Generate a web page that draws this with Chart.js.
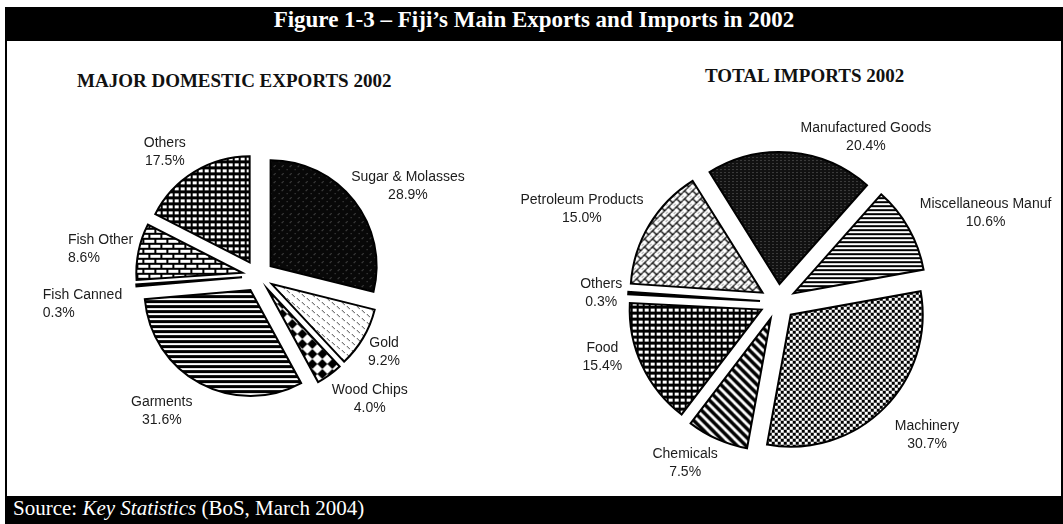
<!DOCTYPE html>
<html>
<head>
<meta charset="utf-8">
<script src="https://cdn.jsdelivr.net/npm/chart.js@4.4.1/dist/chart.umd.min.js"></script>
<style>
  html, body { margin: 0; padding: 0; background: #fff; }
  body { width: 1063px; height: 524px; position: relative; overflow: hidden; }
  .bar { position: absolute; left: 5px; width: 1058px; background: #000; color: #fff; z-index: 2; }
  #titleBar { top: 7px; height: 34px; line-height: 34px; text-align: center;
    font: bold 23px "Liberation Serif", "Times New Roman", serif; }
  #sourceBar { top: 496px; height: 28px; line-height: 28px; padding-left: 8px; box-sizing: border-box;
    font: 21px "Liberation Serif", "Times New Roman", serif; }
  .side { position: absolute; top: 7px; width: 2px; height: 517px; background: #000; }
  .heading { position: absolute; font: bold 19px "Liberation Serif", "Times New Roman", serif; color: #111;
    line-height: 22px; white-space: nowrap; }
  canvas { position: absolute; }
</style>
</head>
<body>
<div class="bar" id="titleBar">Figure 1-3 – Fiji’s Main Exports and Imports in 2002</div>
<div class="side" style="left:5px"></div>
<div class="side" style="left:1061px"></div>
<div class="heading" style="left:77px; top:70px">MAJOR DOMESTIC EXPORTS 2002</div>
<div class="heading" style="left:705px; top:65px">TOTAL IMPORTS 2002</div>
<canvas id="exportsChart" width="500" height="380" style="left:8px; top:86px"></canvas>
<canvas id="importsChart" width="560" height="400" style="left:498px; top:102px"></canvas>
<div class="bar" id="sourceBar">Source: <i>Key Statistics</i> (BoS, March 2004)</div>

<script>
// ---- data (shares in %) ----
const exportLabels = ["Sugar & Molasses", "Gold", "Wood Chips", "Garments", "Fish Canned", "Fish Other", "Others"];
const exportShares = [28.9, 9.2, 4.0, 31.6, 0.3, 8.6, 17.5];

const importLabels = ["Manufactured Goods", "Miscellaneous Manuf", "Machinery", "Chemicals", "Food", "Others", "Petroleum Products"];
const importShares = [20.4, 10.6, 30.7, 7.5, 15.4, 0.3, 15.0];

// label placement: angle nudge (deg) from slice middle, distance from centre, alignment
const exportLabelNudge = [7, 0.5, -6.5, 7.2, -3, -3.5, -5.5];
const exportLabelDist = [175, 147, 166, 166, 217, 192, 155];
const exportLabelAlign = ["center", "center", "center", "center", "left", "left", "center"];

const importLabelNudge = [23.3, 6.1, -3.2, 6.1, 7.5, -0.5, -5.6];
const importLabelDist = [187, 226, 200, 186, 184, 177, 217];
const importLabelAlign = ["center", "center", "center", "center", "center", "center", "center"];

// ---- hatch patterns ----
function tile(w, h, draw) {
    const c = document.createElement("canvas");
    c.width = w;
    c.height = h;
    const g = c.getContext("2d");
    draw(g, w, h);
    return g.createPattern(c, "repeat");
}

const pat = {
    darkFleck: tile(8, 8, g => {
        g.fillStyle = "#080808"; g.fillRect(0, 0, 8, 8);
        g.fillStyle = "#5a5a5a";
        g.fillRect(6, 1, 1, 1); g.fillRect(5, 2, 1, 1); g.fillRect(2, 5, 1, 1);
    }),
    lightDash: tile(10, 8, g => {
        g.fillStyle = "#fff"; g.fillRect(0, 0, 10, 8);
        g.fillStyle = "#444";
        g.fillRect(0, 0, 1, 1); g.fillRect(1, 1, 1, 1); g.fillRect(2, 2, 1, 1);
        g.fillRect(5, 4, 1, 1); g.fillRect(6, 5, 1, 1); g.fillRect(7, 6, 1, 1);
    }),
    diamonds: tile(10, 10, g => {
        g.fillStyle = "#fff"; g.fillRect(0, 0, 10, 10);
        g.fillStyle = "#000";
        g.beginPath(); g.moveTo(5, 0); g.lineTo(10, 5); g.lineTo(5, 10); g.lineTo(0, 5); g.closePath(); g.fill();
    }),
    hStripes: tile(4, 5, g => {
        g.fillStyle = "#fff"; g.fillRect(0, 0, 4, 5);
        g.fillStyle = "#000"; g.fillRect(0, 0, 4, 3);
    }),
    bricks: tile(12, 10, g => {
        g.fillStyle = "#fff"; g.fillRect(0, 0, 12, 10);
        g.fillStyle = "#000";
        g.fillRect(0, 0, 12, 2); g.fillRect(0, 5, 12, 2);
        g.fillRect(0, 0, 2, 5); g.fillRect(6, 5, 2, 5);
    }),
    whiteSquares: tile(6, 6, g => {
        g.fillStyle = "#000"; g.fillRect(0, 0, 6, 6);
        g.fillStyle = "#fff"; g.fillRect(1, 1, 4, 3);
    }),
    fineFleck: tile(4, 3, g => {
        g.fillStyle = "#111"; g.fillRect(0, 0, 4, 3);
        g.fillStyle = "#6a6a6a"; g.fillRect(1, 1, 1, 1);
    }),
    fineLines: tile(2, 4, g => {
        g.fillStyle = "#fff"; g.fillRect(0, 0, 2, 4);
        g.fillStyle = "#000"; g.fillRect(0, 0, 2, 2);
    }),
    checker: tile(6, 6, g => {
        g.fillStyle = "#fff"; g.fillRect(0, 0, 6, 6);
        g.fillStyle = "#000"; g.fillRect(0, 0, 3, 3); g.fillRect(3, 3, 3, 3);
    }),
    diagStripes: tile(9, 9, g => {
        g.fillStyle = "#fff"; g.fillRect(0, 0, 9, 9);
        g.strokeStyle = "#000"; g.lineWidth = 3.5;
        [-9, 0, 9].forEach(o => { g.beginPath(); g.moveTo(o - 1, -1); g.lineTo(o + 10, 10); g.stroke(); });
    }),
    weave: tile(8, 8, g => {
        g.fillStyle = "#fff"; g.fillRect(0, 0, 8, 8);
        g.strokeStyle = "#000"; g.lineWidth = 1.3;
        g.beginPath();
        g.moveTo(0, 4); g.lineTo(4, 0);
        g.moveTo(4, 8); g.lineTo(8, 4);
        g.moveTo(2, 2); g.lineTo(6, 6);
        g.moveTo(6, -2); g.lineTo(10, 2);
        g.moveTo(-2, 6); g.lineTo(2, 10);
        g.stroke();
    }),
    solid: "#000"
};

const exportFills = [pat.darkFleck, pat.lightDash, pat.diamonds, pat.hStripes, pat.solid, pat.bricks, pat.whiteSquares];
const importFills = [pat.fineFleck, pat.fineLines, pat.checker, pat.diagStripes, pat.whiteSquares, pat.solid, pat.weave];

// pull every slice out from the centre by a fixed amount
const explodePlugin = {
    id: "explode",
    beforeDatasetDraw(chart, args, opts) {
        const ctx = chart.ctx;
        args.meta.data.forEach(arc => {
            const mid = (arc.startAngle + arc.endAngle) / 2;
            ctx.save();
            ctx.translate(Math.cos(mid) * opts.shift, Math.sin(mid) * opts.shift);
            arc.draw(ctx);
            ctx.restore();
        });
        return false;
    }
};

// name + percentage outside each slice
const labelPlugin = {
    id: "sliceLabels",
    afterDatasetsDraw(chart, args, opts) {
        const ctx = chart.ctx;
        const meta = chart.getDatasetMeta(0);
        const values = chart.data.datasets[0].data;
        ctx.save();
        ctx.font = '14px "Liberation Sans", Arial, sans-serif';
        ctx.fillStyle = "#1c1c1c";
        ctx.textBaseline = "middle";
        meta.data.forEach((arc, i) => {
            const a = (arc.startAngle + arc.endAngle) / 2 + opts.nudge[i] * Math.PI / 180;
            const x = arc.x + Math.cos(a) * opts.dist[i];
            const y = arc.y + Math.sin(a) * opts.dist[i];
            ctx.textAlign = opts.align[i];
            ctx.fillText(chart.data.labels[i], x, y - 9);
            ctx.fillText(values[i].toFixed(1) + "%", x, y + 9);
        });
        ctx.restore();
    }
};

function makePie(id, labels, shares, fills, radius, rotation, shift, nudge, dist, align) {
    return new Chart(document.getElementById(id), {
        type: "pie",
        data: {
            labels: labels,
            datasets: [{
                data: shares,
                backgroundColor: fills,
                borderColor: "#000",
                borderWidth: 2,
                borderJoinStyle: "miter"
            }]
        },
        options: {
            responsive: false,
            animation: false,
            radius: radius,
            rotation: rotation,
            layout: { padding: 0 },
            events: [],
            plugins: {
                legend: { display: false },
                tooltip: { enabled: false },
                explode: { shift: shift },
                sliceLabels: { nudge: nudge, dist: dist, align: align }
            }
        },
        plugins: [explodePlugin, labelPlugin]
    });
}

makePie("exportsChart", exportLabels, exportShares, exportFills, 106, 0, 16,
    exportLabelNudge, exportLabelDist, exportLabelAlign);
makePie("importsChart", importLabels, importShares, importFills, 132, -32, 18,
    importLabelNudge, importLabelDist, importLabelAlign);
</script>
</body>
</html>
